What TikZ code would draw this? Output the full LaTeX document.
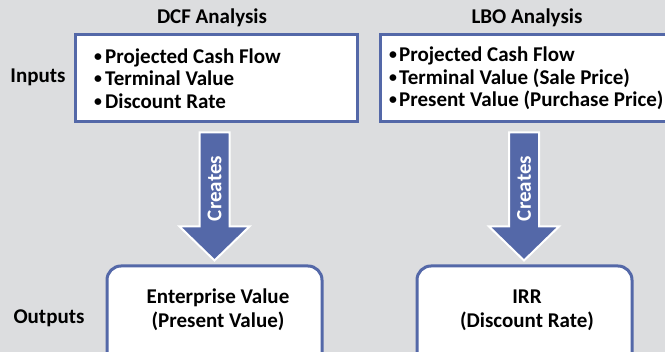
\documentclass[tikz,border=0pt]{standalone}
\usepackage{fontspec}
\setmainfont{Carlito}
\usetikzlibrary{calc}
\definecolor{bg}{RGB}{220,221,223}
\definecolor{blu}{RGB}{84,104,168}
\newcommand{\mybul}[1]{\makebox[#1][l]{\raisebox{1.8pt}{\scalebox{0.75}{•}}}}
\begin{document}
\begin{tikzpicture}[x=1pt,y=-1pt,
  every node/.style={font=\bfseries\fontsize{21}{22.5}\selectfont, inner sep=0pt},
  inbox/.style={draw=blu, line width=3pt, fill=white, minimum height=87pt, inner sep=0pt},
  outbox/.style={draw=blu, line width=3pt, fill=white, rounded corners=14pt, minimum height=104pt, minimum width=215pt},
  bigarrow/.style={fill=blu, draw=white, line width=2pt},
  lbl/.style={font=\bfseries\fontsize{21}{22.5}\selectfont},
  outtxt/.style={align=center, font=\bfseries\fontsize{21}{24}\selectfont}
]
\useasboundingbox (0,0) rectangle (665,352);
\clip (0,0) rectangle (665,352);
\fill[bg] (0,0) rectangle (665,352);

% titles and side labels
\node[lbl] (t1) at (212,18) {DCF Analysis};
\node[lbl] (t2) at (527,18) {LBO Analysis};
\node[lbl] (inl) at (38,77) {Inputs};
\node[lbl] (outl) at (49,318) {Outputs};

% input boxes
\node[inbox, minimum width=282pt] (dcfin) at (216,78.5) {};
\node[inbox, minimum width=292pt] (lboin) at (526,78.5) {};
\node[anchor=west, align=left] (dcftxt) at (94,78.5) {\mybul{11pt}Projected Cash Flow\\\mybul{11pt}Terminal Value\\\mybul{11pt}Discount Rate};
\node[anchor=west, align=left] (lbotxt) at (389,78.5) {\mybul{10pt}Projected Cash Flow\\\mybul{10pt}Terminal Value (Sale Price)\\\mybul{10pt}Present Value (Purchase Price)};

% output boxes
\node[outbox] (dcfout) at (214.5,318) {};
\node[outbox] (lboout) at (524.5,318) {};
\node[outtxt] (dcfouttxt) at (218,310) {Enterprise Value\\(Present Value)};
\node[outtxt] (lboouttxt) at (527,310) {IRR\\(Discount Rate)};

% block arrows
\coordinate (a1) at ($(dcfin.south)+(-1.5,9)$);
\coordinate (a2) at ($(lboin.south)+(-2,9)$);
\foreach \c/\n in {a1/c1,a2/c2}{
  \draw[bigarrow] (\c) ++(-15,0) -- ++(30,0) -- ++(0,94) -- ++(20,0) -- ++(-35,34) -- ++(-35,-34) -- ++(20,0) -- cycle;
  \node[rotate=90, text=white] (\n) at ($(\c)+(0,56)$) {Creates};
}
\end{tikzpicture}
\end{document}
